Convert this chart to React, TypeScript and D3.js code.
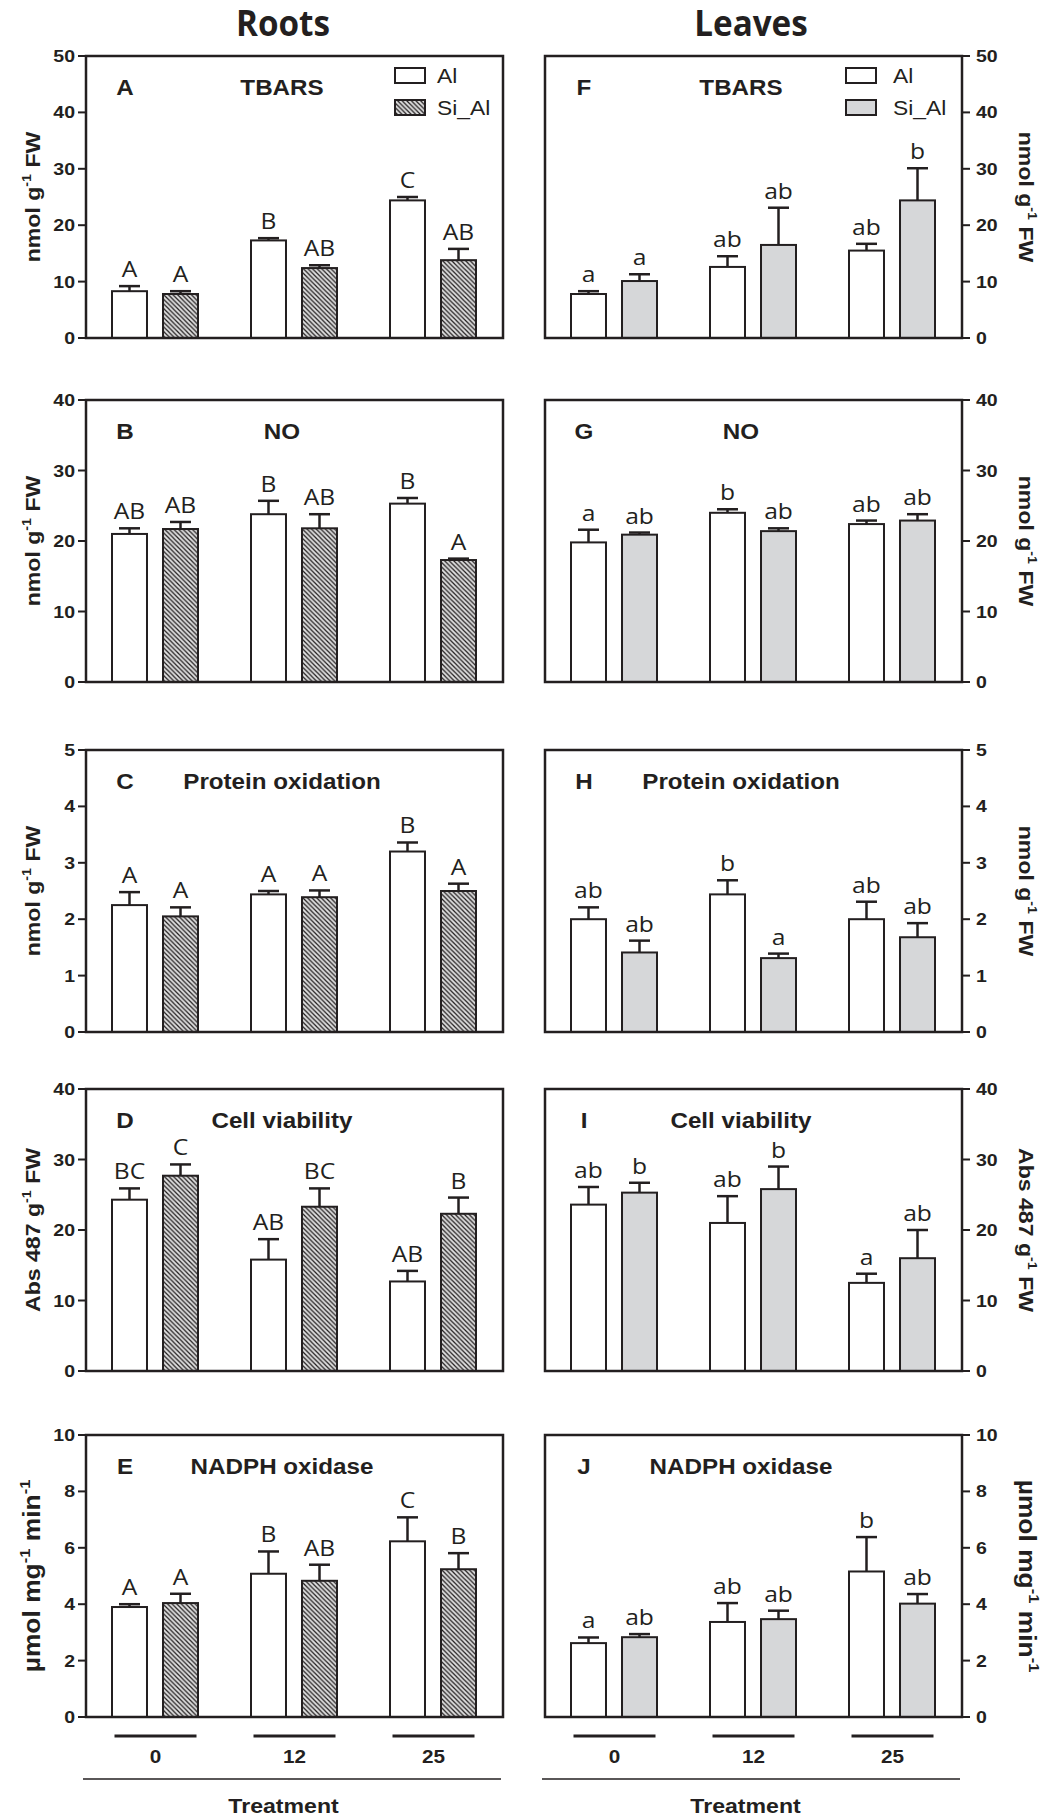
import * as d3 from "d3";
import React from "react";

// treatment groups and series
const groups = ["0", "12", "25"];
const seriesNames = ["Al", "Si_Al"];

// ---- Roots ----
const rootTbarsAl = [8.3, 17.3, 24.4];
const rootTbarsAlErr = [0.9, 0.4, 0.6];
const rootTbarsSi = [7.8, 12.4, 13.8];
const rootTbarsSiErr = [0.5, 0.5, 2.0];
const rootTbarsLetters = [["A", "A"], ["B", "AB"], ["C", "AB"]];

const rootNoAl = [21.0, 23.8, 25.3];
const rootNoAlErr = [0.8, 1.9, 0.8];
const rootNoSi = [21.7, 21.8, 17.3];
const rootNoSiErr = [1.0, 2.0, 0.2];
const rootNoLetters = [["AB", "AB"], ["B", "AB"], ["B", "A"]];

const rootProtAl = [2.25, 2.44, 3.2];
const rootProtAlErr = [0.23, 0.06, 0.16];
const rootProtSi = [2.05, 2.39, 2.5];
const rootProtSiErr = [0.16, 0.12, 0.13];
const rootProtLetters = [["A", "A"], ["A", "A"], ["B", "A"]];

const rootCellAl = [24.3, 15.8, 12.7];
const rootCellAlErr = [1.6, 2.9, 1.5];
const rootCellSi = [27.7, 23.3, 22.3];
const rootCellSiErr = [1.6, 2.6, 2.3];
const rootCellLetters = [["BC", "C"], ["AB", "BC"], ["AB", "B"]];

const rootNadphAl = [3.9, 5.08, 6.23];
const rootNadphAlErr = [0.1, 0.79, 0.85];
const rootNadphSi = [4.04, 4.83, 5.24];
const rootNadphSiErr = [0.33, 0.57, 0.57];
const rootNadphLetters = [["A", "A"], ["B", "AB"], ["C", "B"]];

// ---- Leaves ----
const leafTbarsAl = [7.8, 12.6, 15.5];
const leafTbarsAlErr = [0.5, 1.9, 1.2];
const leafTbarsSi = [10.1, 16.5, 24.4];
const leafTbarsSiErr = [1.2, 6.6, 5.7];
const leafTbarsLetters = [["a", "a"], ["ab", "ab"], ["ab", "b"]];

const leafNoAl = [19.8, 24.0, 22.4];
const leafNoAlErr = [1.8, 0.5, 0.5];
const leafNoSi = [20.9, 21.4, 22.9];
const leafNoSiErr = [0.3, 0.4, 0.9];
const leafNoLetters = [["a", "ab"], ["b", "ab"], ["ab", "ab"]];

const leafProtAl = [2.0, 2.44, 2.0];
const leafProtAlErr = [0.21, 0.25, 0.31];
const leafProtSi = [1.41, 1.31, 1.68];
const leafProtSiErr = [0.21, 0.08, 0.25];
const leafProtLetters = [["ab", "ab"], ["b", "a"], ["ab", "ab"]];

const leafCellAl = [23.6, 21.0, 12.5];
const leafCellAlErr = [2.5, 3.8, 1.3];
const leafCellSi = [25.3, 25.8, 16.0];
const leafCellSiErr = [1.4, 3.2, 4.0];
const leafCellLetters = [["ab", "b"], ["ab", "b"], ["a", "ab"]];

const leafNadphAl = [2.62, 3.37, 5.16];
const leafNadphAlErr = [0.2, 0.67, 1.22];
const leafNadphSi = [2.83, 3.47, 4.02];
const leafNadphSiErr = [0.11, 0.3, 0.34];
const leafNadphLetters = [["a", "ab"], ["ab", "ab"], ["b", "ab"]];

const panelMax = [50, 40, 5, 40, 10];
const panelTitles = ["TBARS", "NO", "Protein oxidation", "Cell viability", "NADPH oxidase"];
const rootIds = ["A", "B", "C", "D", "E"];
const leafIds = ["F", "G", "H", "I", "J"];
// y axis titles: [main, sup, main, sup?, main?]
const yLabels = [
  ["nmol g", "-1", " FW"],
  ["nmol g", "-1", " FW"],
  ["nmol g", "-1", " FW"],
  ["Abs 487 g", "-1", "  FW"],
  ["\u00b5mol mg", "-1", " min", "-1"],
];

const rootPanels = [
  [rootTbarsAl, rootTbarsAlErr, rootTbarsSi, rootTbarsSiErr, rootTbarsLetters],
  [rootNoAl, rootNoAlErr, rootNoSi, rootNoSiErr, rootNoLetters],
  [rootProtAl, rootProtAlErr, rootProtSi, rootProtSiErr, rootProtLetters],
  [rootCellAl, rootCellAlErr, rootCellSi, rootCellSiErr, rootCellLetters],
  [rootNadphAl, rootNadphAlErr, rootNadphSi, rootNadphSiErr, rootNadphLetters],
];
const leafPanels = [
  [leafTbarsAl, leafTbarsAlErr, leafTbarsSi, leafTbarsSiErr, leafTbarsLetters],
  [leafNoAl, leafNoAlErr, leafNoSi, leafNoSiErr, leafNoLetters],
  [leafProtAl, leafProtAlErr, leafProtSi, leafProtSiErr, leafProtLetters],
  [leafCellAl, leafCellAlErr, leafCellSi, leafCellSiErr, leafCellLetters],
  [leafNadphAl, leafNadphAlErr, leafNadphSi, leafNadphSiErr, leafNadphLetters],
];

// layout
const LEFT_X = 86;
const RIGHT_X = 545;
const PANEL_W = 417;
const PANEL_H = 282;
const PANEL_TOPS = [56, 400, 750, 1089, 1435];
const INK = "#231f20";
const BOLD = "'Liberation Sans', Arial, sans-serif";
const LETTER_FONT = "'Open Sans', sans-serif";

const Txt = ({x, y, rot = 0, sx = 1, size, weight = "normal", family = BOLD, anchor = "start", children}: any) => (
  <text transform={`translate(${x},${y}) rotate(${rot}) scale(${sx},1)`}
        fontSize={size} fontWeight={weight} fontFamily={family} textAnchor={anchor} fill={INK}>
    {children}
  </text>
);

const YTitle = ({parts, size}: any) => {
  const sup = Math.round(size * 0.62);
  const shift = Math.round(size * 0.42);
  return (<>
    {parts.map((p: string, i: number) => {
      const isSup = i % 2 === 1;
      const dy = isSup ? -shift : (i > 0 ? shift : 0);
      return <tspan key={i} fontSize={isSup ? sup : size} dy={dy}>{p}</tspan>;
    })}
  </>);
};

const Panel = ({row, x0, side, data, id}: any) => {
  const y0 = PANEL_TOPS[row];
  const [al, alErr, si, siErr, letters] = data;
  const x = d3.scaleBand().domain(groups).range([0, PANEL_W]).padding(0);
  const xi = d3.scaleBand().domain(seriesNames).range([26, 112]).paddingInner(0.314);
  const y = d3.scaleLinear().domain([0, panelMax[row]]).range([PANEL_H, 0]);
  const siFill = side === "left" ? "url(#hatch)" : "#d6d7d9";
  const ticks = y.ticks(5);
  const labelSize = row === 4 ? 24 : 21;

  return (
    <g transform={`translate(${x0},${y0})`}>
      {groups.map((g, gi) => seriesNames.map((s, si2) => {
        const v = si2 === 0 ? al[gi] : si[gi];
        const e = si2 === 0 ? alErr[gi] : siErr[gi];
        const bx = x(g)! + xi(s)!;
        const bw = xi.bandwidth();
        const cx = bx + bw / 2;
        return (
          <g key={g + s}>
            <line x1={cx} x2={cx} y1={y(v)} y2={y(v + e)} stroke={INK} strokeWidth={2.5}/>
            <line x1={cx - 10.5} x2={cx + 10.5} y1={y(v + e)} y2={y(v + e)} stroke={INK} strokeWidth={2.5}/>
            <rect x={bx} y={y(v)} width={bw} height={y(0) - y(v)}
                  fill={si2 === 0 ? "#ffffff" : siFill} stroke={INK} strokeWidth={2}/>
            <Txt x={cx} y={y(v + e) - 9} size={22} family={LETTER_FONT} anchor="middle" sx={1.12}>
              {letters[gi][si2]}
            </Txt>
          </g>
        );
      }))}

      <rect x={0} y={0} width={PANEL_W} height={PANEL_H} fill="none" stroke={INK} strokeWidth={2.5}/>

      {/* y axis */}
      {ticks.map(t => side === "left" ? (
        <g key={t}>
          <line x1={-8} x2={0} y1={y(t)} y2={y(t)} stroke={INK} strokeWidth={2}/>
          <Txt x={-11} y={y(t) + 6} size={16} weight="bold" anchor="end" sx={1.22}>{t}</Txt>
        </g>
      ) : (
        <g key={t}>
          <line x1={PANEL_W} x2={PANEL_W + 8} y1={y(t)} y2={y(t)} stroke={INK} strokeWidth={2}/>
          <Txt x={PANEL_W + 14} y={y(t) + 6} size={16} weight="bold" anchor="start" sx={1.22}>{t}</Txt>
        </g>
      ))}

      {side === "left" ? (
        <Txt x={-46} y={PANEL_H / 2} rot={-90} size={labelSize} weight="bold" anchor="middle" sx={1.1}>
          <YTitle parts={yLabels[row]} size={labelSize}/>
        </Txt>
      ) : (
        <Txt x={PANEL_W + 57} y={PANEL_H / 2} rot={90} size={labelSize} weight="bold" anchor="middle" sx={1.1}>
          <YTitle parts={yLabels[row]} size={labelSize}/>
        </Txt>
      )}

      {/* panel letter and title */}
      <Txt x={39} y={39} size={22} weight="bold" anchor="middle" sx={1.1}>{id}</Txt>
      <Txt x={196} y={39} size={22} weight="bold" anchor="middle" sx={1.1}>{panelTitles[row]}</Txt>

      {row === 0 && (() => {
        const lx = side === "left" ? 309 : 301;
        const tx = side === "left" ? 351 : 348;
        return (
          <g>
            <rect x={lx} y={12} width={30} height={15} fill="#fff" stroke={INK} strokeWidth={2}/>
            <rect x={lx} y={44} width={30} height={15} fill={siFill} stroke={INK} strokeWidth={2}/>
            <Txt x={tx} y={27} size={20} sx={1.14}>{seriesNames[0]}</Txt>
            <Txt x={tx} y={59} size={20} sx={1.14}>{seriesNames[1]}</Txt>
          </g>
        );
      })()}

      {row === 4 && (
        <g>
          {groups.map(g => {
            const c = x(g)! + x.bandwidth() / 2;
            return (
              <g key={g}>
                <line x1={c - 41} x2={c + 41} y1={PANEL_H + 19} y2={PANEL_H + 19} stroke={INK} strokeWidth={3.2}/>
                <Txt x={c} y={PANEL_H + 46} size={18} weight="bold" anchor="middle" sx={1.15}>{g}</Txt>
              </g>
            );
          })}
          <line x1={-3} x2={PANEL_W - 2} y1={PANEL_H + 62} y2={PANEL_H + 62} stroke={INK} strokeWidth={1.6}/>
          <Txt x={PANEL_W / 2 - (side === "left" ? 11 : 8)} y={PANEL_H + 96} size={21} weight="bold" anchor="middle" sx={1.1}>
            Treatment
          </Txt>
        </g>
      )}
    </g>
  );
};

export default function App() {
  return (
    <svg width={1058} height={1817} style={{position: "absolute", left: 0, top: 0, background: "#fff"}}>
      <defs>
        <pattern id="hatch" patternUnits="userSpaceOnUse" width={4.6} height={4.6}>
          <rect width={4.6} height={4.6} fill="#dedede"/>
          <path d="M-1,-1 L5.6,5.6 M-1,3.6 L1,5.6 M3.6,-1 L5.6,1" stroke={INK} strokeWidth={1.25}/>
        </pattern>
      </defs>
      <Txt x={283} y={36} size={35} weight="bold" family={LETTER_FONT} anchor="middle" sx={0.95}>Roots</Txt>
      <Txt x={751} y={36} size={35} weight="bold" family={LETTER_FONT} anchor="middle" sx={0.95}>Leaves</Txt>
      {rootPanels.map((d, i) => (
        <Panel key={"r" + i} row={i} x0={LEFT_X} side="left" data={d} id={rootIds[i]}/>
      ))}
      {leafPanels.map((d, i) => (
        <Panel key={"l" + i} row={i} x0={RIGHT_X} side="right" data={d} id={leafIds[i]}/>
      ))}
    </svg>
  );
}
